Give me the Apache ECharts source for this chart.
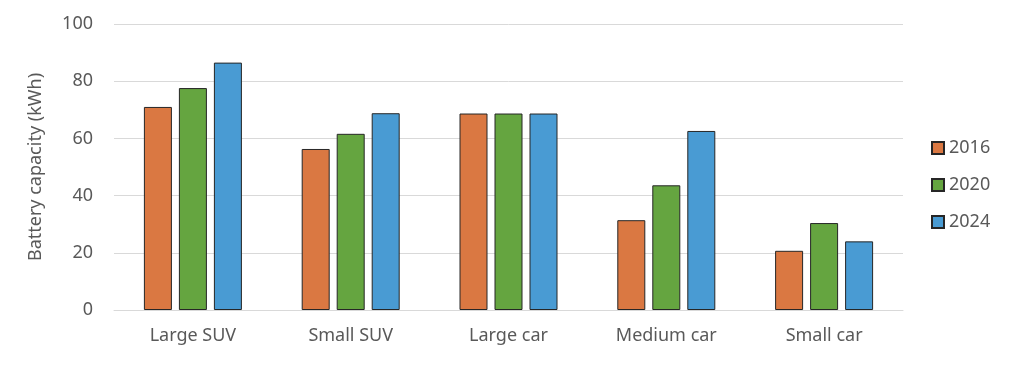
<!DOCTYPE html>
<html>
<head>
<meta charset="utf-8">
<script src="https://cdn.jsdelivr.net/npm/echarts@6/dist/echarts.min.js"></script>
<style>html,body{margin:0;padding:0;background:#fff}#c{width:1024px;height:365px}</style>
</head>
<body>
<div id="c"></div>
<script>
const categories = ['Large SUV', 'Small SUV', 'Large car', 'Medium car', 'Small car'];
const seriesNames = ['2016', '2020', '2024'];
const values2016 = [71.0, 56.3, 68.7, 31.4, 20.7];
const values2020 = [77.6, 61.6, 68.7, 43.6, 30.4];
const values2024 = [86.5, 68.8, 68.7, 62.6, 24.0];
const colors = ['#DA7842', '#65A540', '#499BD3'];
const font = 'Noto Sans';

const chart = echarts.init(document.getElementById('c'), null, {renderer: 'canvas'});
const allValues = [values2016, values2020, values2024];
chart.setOption({
  animation: false,
  backgroundColor: '#fff',
  textStyle: {fontFamily: font},
  grid: {left: 114, right: 121, top: 24, bottom: 55, containLabel: false},
  legend: {
    orient: 'vertical', left: 926, top: 134,
    itemWidth: 12, itemHeight: 12, itemGap: 19,
    icon: 'rect',
    textStyle: {fontFamily: font, fontSize: 18, color: '#595959'},
    data: seriesNames
  },
  xAxis: {
    type: 'category', data: categories,
    axisLine: {show: true, lineStyle: {color: '#d9d9d9', width: 1}},
    axisTick: {show: false},
    axisLabel: {fontFamily: font, fontSize: 18, color: '#595959', margin: 17}
  },
  yAxis: {
    type: 'value', min: 0, max: 100, interval: 20,
    name: 'Battery capacity (kWh)', nameLocation: 'middle', nameGap: 69,
    nameTextStyle: {fontFamily: font, fontSize: 18, color: '#595959'},
    axisLine: {show: false}, axisTick: {show: false},
    axisLabel: {fontFamily: font, fontSize: 18, color: '#595959', margin: 21},
    splitLine: {lineStyle: {color: '#d9d9d9', width: 1}}
  },
  series: seriesNames.map((n, i) => ({
    name: n, type: 'bar', data: allValues[i],
    barWidth: 28, barGap: '25%',
    itemStyle: {color: colors[i], borderColor: '#262626', borderWidth: 1}
  }))
});
</script>
</body>
</html>
